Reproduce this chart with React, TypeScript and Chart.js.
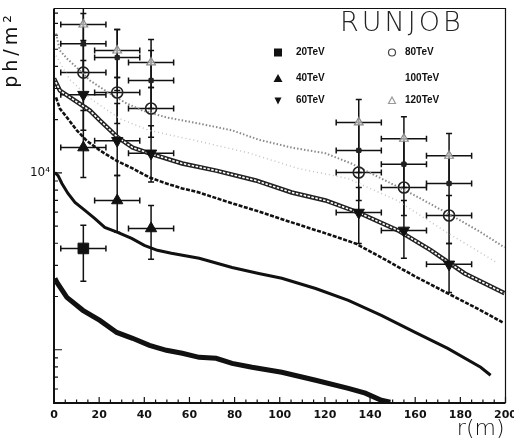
import React, { useEffect, useRef } from 'react';
import { Chart, registerables } from 'chart.js';

Chart.register(...registerables);

// ---------- axis ranges / ticks ----------
const xMin = 0;
const xMax = 200;
const yMin = 500;
const yMax = 85000;
const xTickLabels = [0, 20, 40, 60, 80, 100, 120, 140, 160, 180, 200];

// ---------- simulated curves (r in m, ph/m^2) ----------
const rCurve20 = [0.4, 1.3, 5.7, 12.8, 20.3, 27.8, 34.8, 42.3, 49.8, 56.8, 64.3, 71.8, 78.9, 87.7, 100.9, 115.9, 130.4, 137.9, 145, 149];
const vCurve20 = [2535, 2404, 1977, 1671, 1466, 1253, 1161, 1059, 993, 955, 906, 895, 838, 796, 746, 672, 605, 568, 518, 505];

const rCurve40 = [0.4, 1.8, 3.5, 6.2, 9.3, 13.7, 18, 22.5, 28.2, 34.4, 40, 45.8, 52, 64.3, 78.9, 90.7, 100.9, 115.9, 130.4, 145, 160, 174.4, 189, 193.4];
const vCurve40 = [10040, 9660, 8710, 7650, 6810, 6140, 5530, 4920, 4610, 4260, 3890, 3650, 3510, 3290, 2920, 2700, 2535, 2220, 1900, 1565, 1253, 1018, 796, 718];

const rCurve60 = [0.9, 2.6, 5.7, 10.1, 14.5, 20.3, 27.8, 34.8, 42.3, 49.8, 56.8, 64.3, 76.2, 90.7, 105.3, 120.3, 133.5, 144.9, 159.9, 174.4, 189, 198.7];
const vCurve60 = [26700, 23100, 20600, 17400, 15200, 13400, 11700, 10600, 9420, 8710, 8170, 7750, 6900, 6050, 5250, 4550, 3990, 3330, 2600, 2085, 1671, 1429];

const rCurve80 = [0, 2.6, 9.3, 15.9, 20.3, 28.2, 34.8, 42.3, 56.8, 71.8, 89.4, 105.3, 120.3, 134.8, 152.4, 167, 181.9, 199.6];
const vCurve80 = [34200, 29200, 25600, 22500, 19800, 15900, 13900, 12900, 11300, 10300, 9060, 7750, 6980, 5970, 4730, 3650, 2700, 2085];

const rCurve100 = [0.9, 7, 16, 29, 42, 64, 86, 108, 130, 152, 174, 196];
const vCurve100 = [46000, 33700, 26400, 20300, 17400, 15100, 13000, 10600, 9310, 6980, 4610, 3120];

const rCurve120 = [0.9, 2.6, 5.7, 10.1, 15.9, 24.7, 32.2, 39.2, 49.8, 64.3, 78.9, 90.7, 105.3, 120.3, 131.7, 144.9, 159.9, 174.4, 187.7, 199.6];
const vCurve120 = [61400, 49200, 44400, 39400, 33300, 28100, 24700, 22500, 20600, 19000, 17400, 15400, 13900, 12900, 11300, 9310, 7450, 5900, 4730, 3790];

// ---------- measured points (RUNJOB) ----------
const rErr = 10;
const rPts20 = [13];
const vPts20 = [3740];
const loPts20 = [2440];
const hiPts20 = [5050];

const rPts40 = [13, 28, 43];
const vPts40 = [13900, 6980, 4850];
const loPts40 = [9420, 4610, 3250];
const hiPts40 = [22500, 9660, 6550];

const rPts = [13, 28, 43, 135, 155, 175];
const vPts60 = [27700, 15200, 12900, 5970, 4730, 3040];
const loPts60 = [17400, 9660, 8870, 3990, 3290, 2110];
const hiPts60 = [43200, 24700, 18500, 8270, 6980, 3990];

const vPts80 = [36900, 28500, 23100, 10050, 8270, 5740];
const loPts80 = [24000, 19000, 15900, 6980, 5740, 3990];
const hiPts80 = [56000, 34600, 30400, 13400, 11200, 7450];

const vPts100 = [53800, 44900, 33300, 13400, 11200, 8710];
const loPts100 = [36900, 29200, 23100, 10050, 8270, 5740];
const hiPts100 = [79600, 64600, 49200, 19300, 15600, 12500];

const vPts120 = [69000, 49200, 42100, 19300, 15600, 12500];
const loPts120 = [52500, 34600, 30400, 13400, 11200, 8710];
const hiPts120 = [90600, 64600, 56700, 26000, 20800, 16700];

const errorSeries = [
  { r: rPts20, v: vPts20, lo: loPts20, hi: hiPts20 },
  { r: rPts40, v: vPts40, lo: loPts40, hi: hiPts40 },
  { r: rPts, v: vPts60, lo: loPts60, hi: hiPts60 },
  { r: rPts, v: vPts80, lo: loPts80, hi: hiPts80 },
  { r: rPts, v: vPts100, lo: loPts100, hi: hiPts100 },
  { r: rPts, v: vPts120, lo: loPts120, hi: hiPts120 },
];

const legendLabels = ['20TeV', '40TeV', '60TeV', '80TeV', '100TeV', '120TeV'];

const toXY = (rs: number[], vs: number[]) => rs.map((r, i) => ({ x: r, y: vs[i] }));

const decorPlugin = {
  id: 'runjobDecor',
  beforeDatasetsDraw(chart: any) {
    const { ctx, chartArea, scales } = chart;
    const { left, right, top, bottom } = chartArea;
    const xs = scales.x;
    const ys = scales.y;
    ctx.save();
    ctx.beginPath();
    ctx.rect(left, top, right - left, bottom - top);
    ctx.clip();
    ctx.strokeStyle = '#111';
    ctx.lineWidth = 1.5;
    const cap = 3;
    errorSeries.forEach((s) => {
      s.r.forEach((r, i) => {
        const px = xs.getPixelForValue(r);
        const py = ys.getPixelForValue(s.v[i]);
        const x0 = xs.getPixelForValue(r - rErr);
        const x1 = xs.getPixelForValue(r + rErr);
        const y0 = ys.getPixelForValue(s.lo[i]);
        const y1 = ys.getPixelForValue(s.hi[i]);
        ctx.beginPath();
        ctx.moveTo(x0, py); ctx.lineTo(x1, py);
        ctx.moveTo(x0, py - cap); ctx.lineTo(x0, py + cap);
        ctx.moveTo(x1, py - cap); ctx.lineTo(x1, py + cap);
        ctx.moveTo(px, y0); ctx.lineTo(px, y1);
        ctx.moveTo(px - cap, y0); ctx.lineTo(px + cap, y0);
        ctx.moveTo(px - cap, y1); ctx.lineTo(px + cap, y1);
        ctx.stroke();
      });
    });
    ctx.restore();
  },
  afterDraw(chart: any) {
    const { ctx, chartArea, scales } = chart;
    const { left, right, top, bottom } = chartArea;
    const xs = scales.x;
    const ys = scales.y;
    ctx.save();
    ctx.strokeStyle = '#111';
    // frame
    ctx.lineWidth = 1.2;
    ctx.beginPath();
    ctx.moveTo(left, top); ctx.lineTo(right, top); ctx.lineTo(right, bottom);
    ctx.stroke();
    ctx.lineWidth = 2;
    ctx.beginPath();
    ctx.moveTo(left, top); ctx.lineTo(left, bottom); ctx.lineTo(right, bottom);
    ctx.stroke();
    // inward ticks
    ctx.lineWidth = 1.2;
    ctx.beginPath();
    for (let v = xMin; v <= xMax; v += 5) {
      const px = xs.getPixelForValue(v);
      const len = v % 20 === 0 ? 6 : 3.5;
      ctx.moveTo(px, bottom); ctx.lineTo(px, bottom - len);
    }
    for (let e = 2; e <= 4; e++) {
      for (let m = 1; m <= 9; m++) {
        const v = m * Math.pow(10, e);
        if (v < yMin || v > yMax) continue;
        const py = ys.getPixelForValue(v);
        const len = m === 1 ? 8 : 4;
        ctx.moveTo(left, py); ctx.lineTo(left + len, py);
      }
    }
    ctx.stroke();

    // title RUNJOB
    ctx.fillStyle = '#222';
    ctx.font = '200 27px "DejaVu Sans"';
    (ctx as any).letterSpacing = '3px';
    ctx.textAlign = 'left';
    ctx.textBaseline = 'alphabetic';
    ctx.fillText('RUNJOB', left + 286, top + 22);
    (ctx as any).letterSpacing = '0px';

    // legend
    const c1m = left + 224, c1t = left + 242;
    const c2m = left + 338, c2t = left + 351;
    const rows = [top + 44, top + 70, top + 92];
    ctx.font = 'bold 10px "Liberation Sans"';
    ctx.textBaseline = 'middle';
    ctx.fillStyle = '#111';
    // 20TeV square
    ctx.fillRect(c1m - 4, rows[0] - 4, 8, 8);
    // 40TeV triangle
    ctx.beginPath();
    ctx.moveTo(c1m, rows[1] - 4.5); ctx.lineTo(c1m + 4.5, rows[1] + 3.5); ctx.lineTo(c1m - 4.5, rows[1] + 3.5);
    ctx.closePath(); ctx.fill();
    // 60TeV down triangle
    ctx.beginPath();
    ctx.moveTo(c1m, rows[2] + 4); ctx.lineTo(c1m + 3.5, rows[2] - 3); ctx.lineTo(c1m - 3.5, rows[2] - 3);
    ctx.closePath(); ctx.fill();
    // 80TeV circle
    ctx.strokeStyle = '#444';
    ctx.lineWidth = 1.2;
    ctx.beginPath(); ctx.arc(c2m, rows[0], 3.5, 0, Math.PI * 2); ctx.stroke();
    // 120TeV open triangle
    ctx.strokeStyle = '#999';
    ctx.beginPath();
    ctx.moveTo(c2m, rows[2] - 3.5); ctx.lineTo(c2m + 3.5, rows[2] + 3); ctx.lineTo(c2m - 3.5, rows[2] + 3);
    ctx.closePath(); ctx.stroke();
    ctx.fillStyle = '#111';
    ctx.fillText(legendLabels[0], c1t, rows[0]);
    ctx.fillText(legendLabels[1], c1t, rows[1]);
    ctx.fillText(legendLabels[2], c1t, rows[2]);
    ctx.fillText(legendLabels[3], c2t, rows[0]);
    ctx.fillText(legendLabels[4], c2t, rows[1]);
    ctx.fillText(legendLabels[5], c2t, rows[2]);

    // axis titles
    ctx.fillStyle = '#111';
    ctx.font = '19px "DejaVu Sans"';
    (ctx as any).letterSpacing = '4px';
    ctx.save();
    ctx.translate(12, top + 41);
    ctx.rotate(-Math.PI / 2);
    ctx.textAlign = 'center';
    ctx.textBaseline = 'middle';
    ctx.fillText('ph/m²', 0, 0);
    ctx.restore();
    (ctx as any).letterSpacing = '0px';
    ctx.font = '200 22px "DejaVu Sans"';
    ctx.textAlign = 'right';
    ctx.textBaseline = 'alphabetic';
    ctx.fillText('r(m)', right - 1, bottom + 32);
    ctx.restore();
  },
};

export default function App() {
  const ref = useRef<HTMLCanvasElement | null>(null);
  useEffect(() => {
    if (!ref.current) return;
    const curve = (rs: number[], vs: number[], color: string, width: number, dash: number[], order: number) => ({
      data: toXY(rs, vs),
      showLine: true,
      borderColor: color,
      borderWidth: width,
      borderDash: dash,
      pointRadius: 0,
      tension: 0,
      order,
    });
    const pts = (rs: number[], vs: number[], style: string, radius: number, fill: string, stroke: string, bw: number, rotation = 0) => ({
      data: toXY(rs, vs),
      showLine: false,
      pointStyle: style,
      pointRadius: radius,
      pointRotation: rotation,
      pointBackgroundColor: fill,
      pointBorderColor: stroke,
      pointBorderWidth: bw,
      order: 0,
    });
    const chart = new Chart(ref.current, {
      type: 'scatter',
      data: {
        datasets: [
          curve(rCurve120, vCurve120, '#8a8a8a', 2, [1.5, 2], 3),
          curve(rCurve100, vCurve100, '#c4c4c4', 1.5, [1, 3], 3),
          curve(rCurve80, vCurve80, '#222', 4.5, [], 3),
          curve(rCurve80, vCurve80, '#fff', 1.6, [2.5, 1.5], 2),
          curve(rCurve60, vCurve60, '#111', 2.6, [4, 1.5], 3),
          curve(rCurve40, vCurve40, '#111', 3, [], 3),
          curve(rCurve20, vCurve20, '#111', 5, [], 3),
          pts(rPts20, vPts20, 'rect', 7.5, '#111', '#111', 1),
          pts(rPts40, vPts40, 'triangle', 6.5, '#111', '#111', 1),
          pts(rPts, vPts60, 'triangle', 6.5, '#111', '#111', 1, 180),
          pts(rPts, vPts80, 'circle', 5.5, 'rgba(0,0,0,0)', '#222', 1.6),
          pts(rPts, vPts100, 'rect', 3, '#222', '#222', 1),
          pts(rPts, vPts120, 'triangle', 5, 'rgba(255,255,255,0.6)', '#888', 1.2),
        ] as any,
      },
      options: {
        animation: false,
        responsive: true,
        maintainAspectRatio: false,
        events: [],
        layout: { padding: { left: 0, right: 6, top: 8, bottom: 0 } },
        plugins: { legend: { display: false }, tooltip: { enabled: false }, title: { display: false } },
        scales: {
          x: {
            type: 'linear',
            min: xMin,
            max: xMax,
            grid: { display: false, drawTicks: false },
            border: { display: false },
            ticks: {
              stepSize: 5,
              autoSkip: false,
              maxRotation: 0,
              padding: 6,
              color: '#111',
              font: { family: 'DejaVu Sans', size: 11, weight: 'bold' },
              callback: (v: any) => (xTickLabels.includes(Number(v)) ? String(v) : ''),
            },
            afterFit: (s: any) => { s.height = 38; s.paddingLeft = 0; s.paddingRight = 0; },
          },
          y: {
            type: 'logarithmic',
            min: yMin,
            max: yMax,
            grid: { display: false, drawTicks: false },
            border: { display: false },
            ticks: {
              autoSkip: false,
              padding: 4,
              color: '#111',
              font: { family: 'DejaVu Sans', size: 12 },
              callback: (v: any) => (Math.abs(Number(v) - 10000) < 1 ? '10⁴' : ''),
            },
            afterFit: (s: any) => { s.width = 54; s.paddingTop = 0; s.paddingBottom = 0; },
          },
        },
      } as any,
      plugins: [decorPlugin],
    });
    return () => chart.destroy();
  }, []);
  return (
    <div style={{ position: 'fixed', left: 0, top: 0, width: 514, height: 441, background: '#fff' }}>
      <canvas ref={ref} />
    </div>
  );
}
